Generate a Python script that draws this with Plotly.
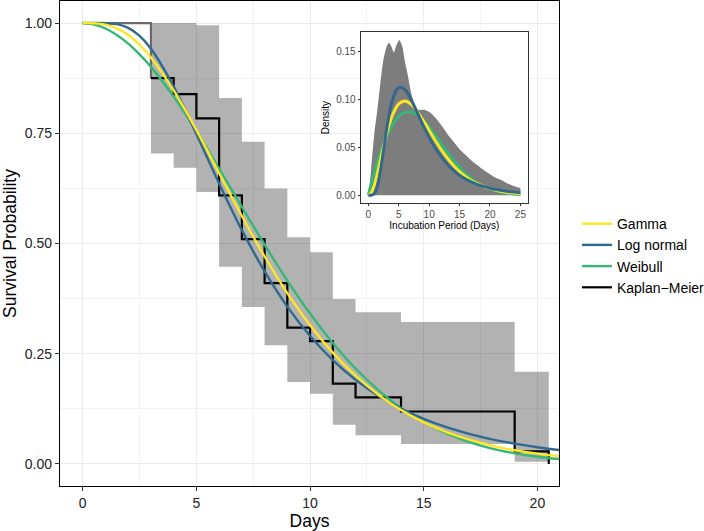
import plotly.graph_objects as go

# ---------------- Kaplan-Meier estimate and confidence band ----------------
km_time = [0, 3, 4, 5, 6, 7, 8, 9, 10, 11, 12, 14, 19, 20.5]
km_surv = [1.0, 0.875, 0.839, 0.784, 0.609, 0.510, 0.410, 0.309, 0.2785, 0.182, 0.151, 0.119, 0.0285, 0.0]
ci_time = [3, 4, 5, 6, 7, 8, 9, 10, 11, 12, 14, 19, 20.5]
ci_upper = [1.0, 1.0, 0.995, 0.830, 0.731, 0.625, 0.514, 0.480, 0.374, 0.344, 0.322, 0.209, 0.209]
ci_lower = [0.704, 0.672, 0.617, 0.447, 0.356, 0.269, 0.186, 0.159, 0.089, 0.065, 0.045, 0.005, 0.005]

# ---------------- fitted survival curves ----------------
days = [0, 0.5, 1, 1.5, 2, 2.5, 3, 4, 5, 6, 7, 8, 9, 10, 11, 12, 13, 14, 15, 16, 17, 18, 19, 20, 21]
surv_gamma = [1.0, 0.9996, 0.9963, 0.9879, 0.9728, 0.9508, 0.9220, 0.8474, 0.7570, 0.6595, 0.5623, 0.4705,
              0.3875, 0.3148, 0.2524, 0.2001, 0.1571, 0.1223, 0.0944, 0.0723, 0.0550, 0.0416, 0.0312, 0.0233, 0.0172]
surv_lognormal = [1.0, 1.0, 0.9998, 0.9974, 0.9889, 0.9708, 0.9418, 0.8561, 0.7484, 0.6360, 0.5303, 0.4366,
                  0.3567, 0.2901, 0.2354, 0.1909, 0.1549, 0.1258, 0.1024, 0.0835, 0.0683, 0.0559, 0.0460, 0.0379, 0.0313]
surv_weibull = [1.0, 0.9967, 0.9876, 0.9730, 0.9534, 0.9290, 0.9006, 0.8330, 0.7548, 0.6701, 0.5831, 0.4973,
                0.4159, 0.3411, 0.2743, 0.2164, 0.1675, 0.1271, 0.0947, 0.0692, 0.0496, 0.0349, 0.0241, 0.0164, 0.0109]

# ---------------- inset: incubation period densities ----------------
inc_days = [0, 0.5, 1, 1.5, 2, 2.5, 3, 3.5, 4, 5, 6, 7, 8, 9, 10, 11, 12, 13, 14, 15, 16, 17,
            18, 19, 20, 21, 22, 23, 24, 25]
dens_gamma = [0.0, 0.00273, 0.01108, 0.02320, 0.03704, 0.05099, 0.06388, 0.07502, 0.08403, 0.09528, 0.09834,
              0.09514, 0.08777, 0.07812, 0.06753, 0.05709, 0.04732, 0.03861, 0.03107, 0.02472, 0.01946,
              0.01518, 0.01175, 0.00903, 0.00690, 0.00524, 0.00396, 0.00297, 0.00223, 0.00166]
dens_lognormal = [0.0, 0.00002, 0.0015, 0.00949, 0.02581, 0.04699, 0.06833, 0.08652, 0.09996, 0.11247, 0.11038,
                  0.10023, 0.08684, 0.07308, 0.06039, 0.04930, 0.04001, 0.03223, 0.02601, 0.02094, 0.01689,
                  0.01363, 0.01103, 0.00895, 0.00727, 0.00592, 0.00484, 0.00396, 0.00325, 0.00267]
dens_weibull = [0.0, 0.01261, 0.02387, 0.03437, 0.04406, 0.05292, 0.06081, 0.06773, 0.07362, 0.08217, 0.08651,
                0.08696, 0.08402, 0.07845, 0.07099, 0.06241, 0.05341, 0.04456, 0.03624, 0.02880, 0.02235,
                0.01696, 0.01258, 0.00914, 0.00651, 0.00453, 0.00309, 0.00207, 0.00135, 0.00087]

# envelope of the posterior density draws (grey band)
env_days = [0, 0.15, 0.5, 1.0, 1.5, 2.0, 2.5, 3.0, 3.4, 3.8, 4.2, 4.6, 5.1, 5.6, 6.0, 6.5, 7.0, 7.5, 8.0,
            8.6, 9.3, 10, 11, 12, 13, 14, 15, 16, 17, 18, 19, 20, 21, 22, 23, 24, 25]
env_dens = [0.0, 0.005, 0.03, 0.065, 0.09, 0.118, 0.142, 0.155, 0.159, 0.155, 0.149, 0.156, 0.162, 0.155, 0.140,
            0.125, 0.108, 0.097, 0.090, 0.089, 0.089, 0.087, 0.081, 0.073, 0.064, 0.056, 0.048, 0.042, 0.036,
            0.031, 0.026, 0.022, 0.018, 0.0155, 0.012, 0.0095, 0.0075]

COL_GAMMA = "#FDE725"
COL_LNORM = "#31688E"
COL_WEIB = "#35B779"
FONT = "Liberation Sans, Arial, sans-serif"

fig = go.Figure()

# confidence band (step ribbon)
fig.add_trace(go.Scatter(x=ci_time, y=ci_lower, mode="lines", line=dict(width=0, shape="hv"),
                         showlegend=False, hoverinfo="skip"))
fig.add_trace(go.Scatter(x=ci_time, y=ci_upper, mode="lines", line=dict(width=0, shape="hv"),
                         fill="tonexty", fillcolor="rgba(0,0,0,0.30)", showlegend=False, hoverinfo="skip"))

# Kaplan-Meier: first (pre-event) part appears grey, remaining steps black
fig.add_trace(go.Scatter(x=km_time[:2], y=km_surv[:2], mode="lines",
                         line=dict(color="#6a6a6a", width=2.2, shape="hv"), showlegend=False))
fig.add_trace(go.Scatter(x=km_time[1:], y=km_surv[1:], mode="lines", name="Kaplan\u2212Meier",
                         line=dict(color="black", width=2.2, shape="hv"), legendrank=4))

# parametric fits
fig.add_trace(go.Scatter(x=days, y=surv_weibull, mode="lines", name="Weibull",
                         line=dict(color=COL_WEIB, width=2.4, shape="spline"), legendrank=3))
fig.add_trace(go.Scatter(x=days, y=surv_lognormal, mode="lines", name="Log normal",
                         line=dict(color=COL_LNORM, width=2.4, shape="spline"), legendrank=2))
fig.add_trace(go.Scatter(x=days, y=surv_gamma, mode="lines", name="Gamma",
                         line=dict(color=COL_GAMMA, width=2.4, shape="spline"), legendrank=1))

# inset
fig.add_trace(go.Scatter(x=env_days, y=env_dens, mode="lines", xaxis="x2", yaxis="y2",
                         line=dict(width=0, shape="spline", smoothing=0.6), fill="tozeroy",
                         fillcolor="rgb(125,125,125)", showlegend=False, hoverinfo="skip"))
fig.add_trace(go.Scatter(x=inc_days, y=dens_weibull, mode="lines", xaxis="x2", yaxis="y2",
                         line=dict(color=COL_WEIB, width=3, shape="spline"), showlegend=False))
fig.add_trace(go.Scatter(x=inc_days, y=dens_gamma, mode="lines", xaxis="x2", yaxis="y2",
                         line=dict(color=COL_GAMMA, width=3, shape="spline"), showlegend=False))
fig.add_trace(go.Scatter(x=inc_days, y=dens_lognormal, mode="lines", xaxis="x2", yaxis="y2",
                         line=dict(color=COL_LNORM, width=3, shape="spline"), showlegend=False))

fig.update_layout(
    width=704, height=531,
    margin=dict(l=60, r=145, t=1, b=45, autoexpand=False),
    paper_bgcolor="white", plot_bgcolor="white",
    font=dict(family=FONT, color="#222222"),
    legend=dict(x=1.036, xanchor="left", y=0.573, yanchor="top", font=dict(size=14, color="black"),
                bgcolor="rgba(0,0,0,0)", tracegroupgap=0, traceorder="normal"),
    xaxis=dict(
        range=[-1.0, 20.95], tickvals=[0, 5, 10, 15, 20], showgrid=True, gridcolor="#ebebeb", gridwidth=1,
        minor=dict(dtick=2.5, tick0=0, showgrid=True, gridcolor="#f3f3f3", gridwidth=1),
        showline=True, mirror=True, linecolor="black", linewidth=1.3,
        ticks="outside", ticklen=4, tickcolor="#333333", zeroline=False,
        tickfont=dict(size=14, color="#222222"),
        title=dict(text="Days", font=dict(size=17.5, color="black"), standoff=6),
    ),
    yaxis=dict(
        range=[-0.05, 1.05], tickvals=[0, 0.25, 0.5, 0.75, 1.0], tickformat=".2f",
        showgrid=True, gridcolor="#ebebeb", gridwidth=1,
        minor=dict(dtick=0.125, tick0=0, showgrid=True, gridcolor="#f3f3f3", gridwidth=1),
        showline=True, mirror=True, linecolor="black", linewidth=1.3,
        ticks="outside", ticklen=4, tickcolor="#333333", zeroline=False,
        tickfont=dict(size=14, color="#222222"),
        title=dict(text="Survival Probability", font=dict(size=17.5, color="black"), standoff=6),
    ),
    xaxis2=dict(
        domain=[0.6026, 0.9379], anchor="y2", range=[-1.25, 26.25], tickvals=[0, 5, 10, 15, 20, 25],
        showgrid=False, zeroline=False, showline=True, mirror=True, linecolor="#333333", linewidth=1.2,
        ticks="outside", ticklen=2, tickcolor="#333333",
        tickfont=dict(size=10, color="#4d4d4d"),
        title=dict(text="Incubation Period (Days)", font=dict(size=10, color="black"), standoff=2),
    ),
    yaxis2=dict(
        domain=[0.5835, 0.9355], anchor="x2", range=[-0.0081, 0.170], tickvals=[0, 0.05, 0.10, 0.15],
        tickformat=".2f", showgrid=False, zeroline=False, showline=True, mirror=True,
        linecolor="#333333", linewidth=1.2, ticks="outside", ticklen=2, tickcolor="#333333",
        tickfont=dict(size=10, color="#4d4d4d"),
        title=dict(text="Density", font=dict(size=10, color="black"), standoff=4),
    ),
)

fig.write_html("out.html")
